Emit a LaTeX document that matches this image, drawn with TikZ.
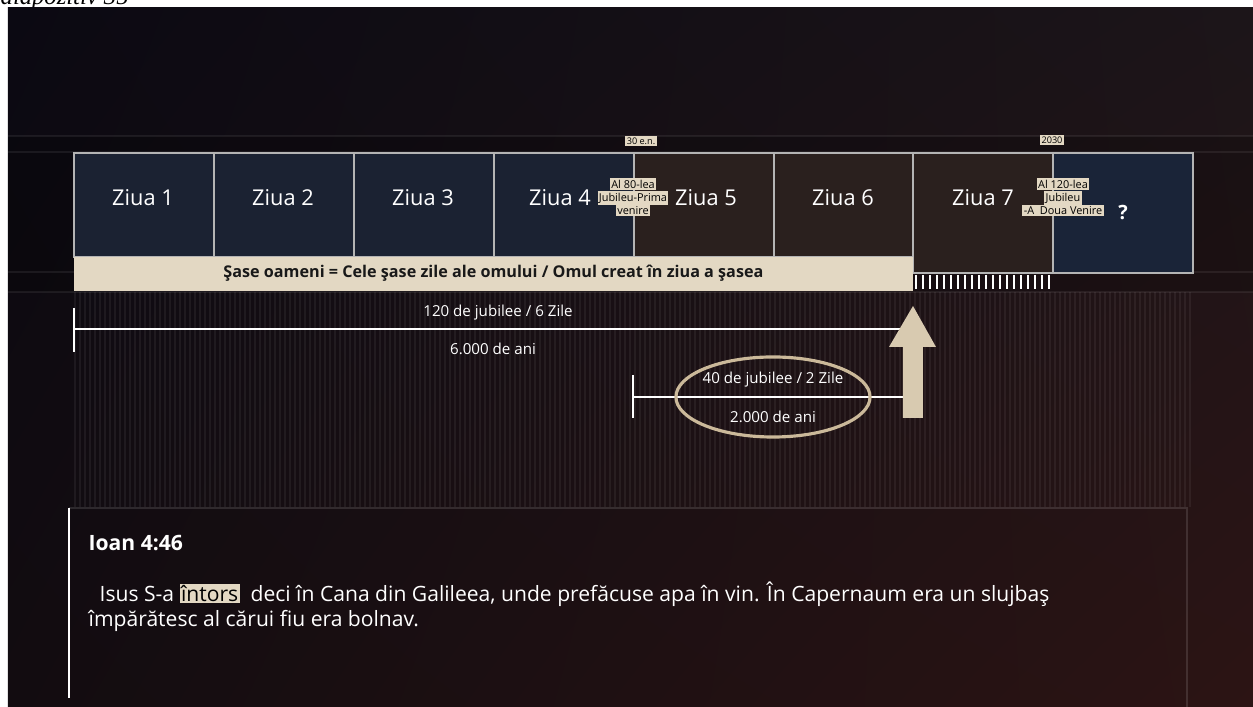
\documentclass[tikz,border=0pt]{standalone}
\usepackage{fontspec}
\setmainfont{Open Sans}
\newfontfamily\capfont{Liberation Serif}
\usetikzlibrary{positioning,shapes.geometric,shadings}
\definecolor{navybox}{HTML}{1B2232}
\definecolor{navyq}{HTML}{1A2438}
\definecolor{brownbox}{HTML}{2A201E}
\definecolor{boxline}{HTML}{B4B4B4}
\definecolor{beige}{HTML}{E3D8C3}
\definecolor{tan}{HTML}{CBB99A}
\definecolor{arrowbeige}{HTML}{D8CAB0}
\definecolor{bgtl}{HTML}{0B0912}
\definecolor{bgtr}{HTML}{1C1519}
\definecolor{bgbl}{HTML}{120C10}
\definecolor{bgbr}{HTML}{2C1414}
\newcommand{\hl}[1]{{\setlength{\fboxsep}{0.4pt}\colorbox{beige}{\color{black}#1}}}

\begin{document}
\begin{tikzpicture}[x=0.01cm,y=-0.01cm,
    daybox/.style={anchor=north west,inner sep=0,minimum width=1.4cm,minimum height=1.04cm,draw=boxline,line width=0.5pt},
    daylab/.style={text=white!92,font=\fontsize{6.2}{7}\selectfont},
    tag/.style={fill=beige,text=black,inner sep=0.4pt,font=\fontsize{2.6}{3}\selectfont},
    note/.style={align=center,inner sep=0,font=\fontsize{3.1}{3.7}\selectfont},
    barlab/.style={text=white!88,font=\fontsize{4.3}{5}\selectfont},
    bar/.style={draw=white!92,line width=0.7pt},
    stripe/.style={white,opacity=0.06,line width=0.3pt}]

\useasboundingbox (0,0) rectangle (1253,707);
\fill[white] (0,0) rectangle (1253,707);
\node[anchor=base west,inner sep=0,font=\capfont\itshape\fontsize{7}{8}\selectfont] (caption) at (0,5) {diapozitiv 35};

% background of the slide
\shade[upper left=bgtl,upper right=bgtr,lower left=bgbl,lower right=bgbr] (8,8) rectangle (1253,707);
\fill[black,opacity=0.18] (8,136) rectangle (1253,292);
\foreach \y in {136,152,272,292}
  \draw[white,opacity=0.07,line width=0.4pt] (8,\y) -- (1253,\y);
\foreach \x in {75,80,...,1190}
  \draw[stripe] (\x,292) -- (\x,507);

% the seven days
\foreach \i/\x/\col in {1/73/navybox,2/213/navybox,3/353/navybox,4/493/navybox,5/633/brownbox,6/773/brownbox}
  \node[daybox,fill=\col] (day\i) at (\x,152) {};
\node[daybox,fill=brownbox,minimum height=1.2cm] (day7) at (912,152) {};
\node[daybox,fill=navyq,minimum height=1.2cm] (dayq) at (1052,152) {};

\foreach \i/\x in {1/143,2/283,3/423,4/560,5/706,6/843,7/983}
  \node[daylab] (lab\i) at (\x,198) {Ziua \i};
\node[text=white,font=\bfseries\fontsize{5.6}{6}\selectfont] (qmark) at (1123,213) {?};

\node[fill=beige,anchor=north west,inner sep=0,minimum width=8.39cm,minimum height=0.34cm,
  font=\bfseries\fontsize{4.6}{5}\selectfont,text=black!90] (humanbar) at (73,256)
  {Şase oameni = Cele şase zile ale omului / Omul creat în ziua a şasea};
\foreach \x in {916,923,...,1050}
  \draw[white!85,line width=0.35pt] (\x,275) -- (\x,289);

\node[tag] (era1) at (641,141) {30 e.n.};
\node[tag] (era2) at (1052,140) {2030};
\node[note] (first) at (633,197) {\hl{Al 80-lea}\\\hl{Jubileu-Prima}\\\hl{venire}};
\node[note] (second) at (1063,197) {\hl{Al 120-lea}\\\hl{Jubileu}\\\hl{-A\ \ Doua Venire}};

% spans
\coordinate (start6) at (74,329);
\coordinate (end6) at (903,329);
\coordinate (start2) at (633,397);
\coordinate (end2) at (903,397);
\draw[bar] (74,308) -- (74,352);
\draw[bar] (start6) -- (end6);
\draw[bar] (633,375) -- (633,418);
\draw[bar] (start2) -- (end2);
\node[barlab] (jub120) at (498,313) {120 de jubilee / 6 Zile};
\node[barlab] (ani6) at (493,349) {6.000 de ani};
\node[ellipse,draw=tan,line width=0.9pt,minimum width=1.94cm,minimum height=0.8cm] (span2) at (773,397) {};
\node[barlab] (jub40) at (773,380) {40 de jubilee / 2 Zile};
\node[barlab] (ani2) at (773,417) {2.000 de ani};
\fill[arrowbeige] (903,418) -- (903,347) -- (889,347) -- (913,306) -- (936,347) -- (923,347) -- (923,418) -- cycle;

% verse
\draw[white!80,line width=0.6pt] (69,508) -- (69,698);
\draw[white,opacity=0.12,line width=0.4pt] (69,508) -- (1187,508) -- (1187,707);
\node[anchor=west,inner sep=0,text=white,font=\bfseries\fontsize{6}{7}\selectfont] (verseref) at (88,543) {Ioan 4:46};
\node[anchor=north west,align=left,text=white!95,inner sep=0,font=\fontsize{6}{5.4}\selectfont] (verse) at (88,581)
  {\ \ Isus S-a \hl{întors}\ \ deci în Cana din Galileea, unde prefăcuse apa în vin. În Capernaum era un slujbaş\\
   împărătesc al cărui fiu era bolnav.};
\end{tikzpicture}
\end{document}
